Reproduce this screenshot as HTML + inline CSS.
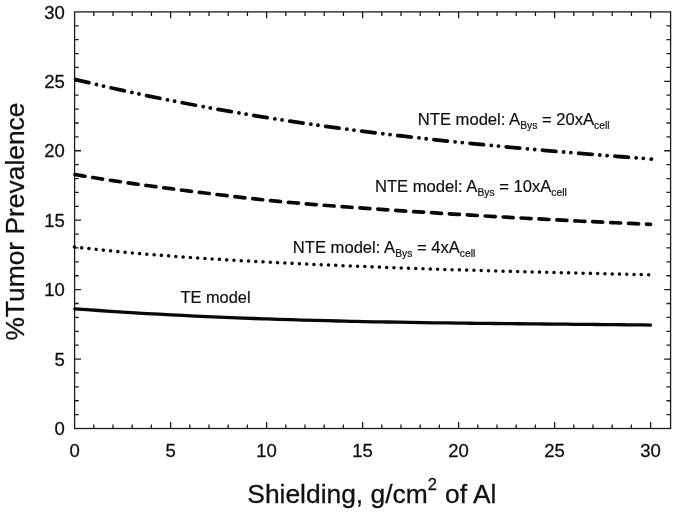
<!DOCTYPE html>
<html><head><meta charset="utf-8"><title>Tumor Prevalence vs Shielding</title>
<style>html,body{margin:0;padding:0;background:#fff}svg{display:block}text{font-family:"Liberation Sans",Arial,sans-serif;fill:#111}</style>
</head><body>
<svg width="675" height="513" viewBox="0 0 675 513">
<rect width="675" height="513" fill="#fff"/>
<g stroke="#1c1c1c" stroke-width="1.3" fill="none" stroke-linecap="butt">
<rect x="74.60" y="11.90" width="596.00" height="416.60"/>
<path d="M93.80 428.50 v-4.10 M93.80 11.90 v4.10"/>
<path d="M113.00 428.50 v-4.10 M113.00 11.90 v4.10"/>
<path d="M132.20 428.50 v-4.10 M132.20 11.90 v4.10"/>
<path d="M151.40 428.50 v-4.10 M151.40 11.90 v4.10"/>
<path d="M170.60 428.50 v-6.40 M170.60 11.90 v6.40"/>
<path d="M189.80 428.50 v-4.10 M189.80 11.90 v4.10"/>
<path d="M209.00 428.50 v-4.10 M209.00 11.90 v4.10"/>
<path d="M228.20 428.50 v-4.10 M228.20 11.90 v4.10"/>
<path d="M247.40 428.50 v-4.10 M247.40 11.90 v4.10"/>
<path d="M266.60 428.50 v-6.40 M266.60 11.90 v6.40"/>
<path d="M285.80 428.50 v-4.10 M285.80 11.90 v4.10"/>
<path d="M305.00 428.50 v-4.10 M305.00 11.90 v4.10"/>
<path d="M324.20 428.50 v-4.10 M324.20 11.90 v4.10"/>
<path d="M343.40 428.50 v-4.10 M343.40 11.90 v4.10"/>
<path d="M362.60 428.50 v-6.40 M362.60 11.90 v6.40"/>
<path d="M381.80 428.50 v-4.10 M381.80 11.90 v4.10"/>
<path d="M401.00 428.50 v-4.10 M401.00 11.90 v4.10"/>
<path d="M420.20 428.50 v-4.10 M420.20 11.90 v4.10"/>
<path d="M439.40 428.50 v-4.10 M439.40 11.90 v4.10"/>
<path d="M458.60 428.50 v-6.40 M458.60 11.90 v6.40"/>
<path d="M477.80 428.50 v-4.10 M477.80 11.90 v4.10"/>
<path d="M497.00 428.50 v-4.10 M497.00 11.90 v4.10"/>
<path d="M516.20 428.50 v-4.10 M516.20 11.90 v4.10"/>
<path d="M535.40 428.50 v-4.10 M535.40 11.90 v4.10"/>
<path d="M554.60 428.50 v-6.40 M554.60 11.90 v6.40"/>
<path d="M573.80 428.50 v-4.10 M573.80 11.90 v4.10"/>
<path d="M593.00 428.50 v-4.10 M593.00 11.90 v4.10"/>
<path d="M612.20 428.50 v-4.10 M612.20 11.90 v4.10"/>
<path d="M631.40 428.50 v-4.10 M631.40 11.90 v4.10"/>
<path d="M650.60 428.50 v-6.40 M650.60 11.90 v6.40"/>
<path d="M74.60 414.61 h4.10 M670.60 414.61 h-4.10"/>
<path d="M74.60 400.73 h4.10 M670.60 400.73 h-4.10"/>
<path d="M74.60 386.84 h4.10 M670.60 386.84 h-4.10"/>
<path d="M74.60 372.95 h4.10 M670.60 372.95 h-4.10"/>
<path d="M74.60 359.07 h6.40 M670.60 359.07 h-6.40"/>
<path d="M74.60 345.18 h4.10 M670.60 345.18 h-4.10"/>
<path d="M74.60 331.29 h4.10 M670.60 331.29 h-4.10"/>
<path d="M74.60 317.41 h4.10 M670.60 317.41 h-4.10"/>
<path d="M74.60 303.52 h4.10 M670.60 303.52 h-4.10"/>
<path d="M74.60 289.63 h6.40 M670.60 289.63 h-6.40"/>
<path d="M74.60 275.75 h4.10 M670.60 275.75 h-4.10"/>
<path d="M74.60 261.86 h4.10 M670.60 261.86 h-4.10"/>
<path d="M74.60 247.97 h4.10 M670.60 247.97 h-4.10"/>
<path d="M74.60 234.09 h4.10 M670.60 234.09 h-4.10"/>
<path d="M74.60 220.20 h6.40 M670.60 220.20 h-6.40"/>
<path d="M74.60 206.31 h4.10 M670.60 206.31 h-4.10"/>
<path d="M74.60 192.43 h4.10 M670.60 192.43 h-4.10"/>
<path d="M74.60 178.54 h4.10 M670.60 178.54 h-4.10"/>
<path d="M74.60 164.65 h4.10 M670.60 164.65 h-4.10"/>
<path d="M74.60 150.77 h6.40 M670.60 150.77 h-6.40"/>
<path d="M74.60 136.88 h4.10 M670.60 136.88 h-4.10"/>
<path d="M74.60 122.99 h4.10 M670.60 122.99 h-4.10"/>
<path d="M74.60 109.11 h4.10 M670.60 109.11 h-4.10"/>
<path d="M74.60 95.22 h4.10 M670.60 95.22 h-4.10"/>
<path d="M74.60 81.33 h6.40 M670.60 81.33 h-6.40"/>
<path d="M74.60 67.45 h4.10 M670.60 67.45 h-4.10"/>
<path d="M74.60 53.56 h4.10 M670.60 53.56 h-4.10"/>
<path d="M74.60 39.67 h4.10 M670.60 39.67 h-4.10"/>
<path d="M74.60 25.79 h4.10 M670.60 25.79 h-4.10"/>
</g>
<g font-size="18.5" stroke="#111" stroke-width="0.3">
<text x="74.60" y="456.50" text-anchor="middle">0</text>
<text x="170.60" y="456.50" text-anchor="middle">5</text>
<text x="266.60" y="456.50" text-anchor="middle">10</text>
<text x="362.60" y="456.50" text-anchor="middle">15</text>
<text x="458.60" y="456.50" text-anchor="middle">20</text>
<text x="554.60" y="456.50" text-anchor="middle">25</text>
<text x="650.60" y="456.50" text-anchor="middle">30</text>
<text x="64.80" y="435.15" text-anchor="end">0</text>
<text x="64.80" y="365.72" text-anchor="end">5</text>
<text x="64.80" y="296.28" text-anchor="end">10</text>
<text x="64.80" y="226.85" text-anchor="end">15</text>
<text x="64.80" y="157.42" text-anchor="end">20</text>
<text x="64.80" y="87.98" text-anchor="end">25</text>
<text x="64.80" y="18.55" text-anchor="end">30</text>
</g>
<text x="247.3" y="503.3" font-size="26.4" stroke="#111" stroke-width="0.3">Shielding, g/cm<tspan font-size="16.5" dy="-13.2">2</tspan><tspan dy="13.2" dx="0.8"> of Al</tspan></text>
<text transform="translate(23.7 340.6) rotate(-90)" font-size="26.4" stroke="#111" stroke-width="0.3">%Tumor Prevalence</text>
<g fill="none" stroke="#080808" stroke-linecap="round" stroke-linejoin="round">
<path d="M75.70 79.53 C77.70 80.02 83.70 81.47 87.70 82.42 C91.70 83.37 95.70 84.31 99.70 85.24 C103.70 86.17 107.70 87.08 111.70 87.98 C115.70 88.89 119.70 89.78 123.70 90.65 C127.70 91.53 131.70 92.40 135.70 93.26 C139.70 94.11 143.70 94.96 147.70 95.79 C151.70 96.63 155.70 97.45 159.70 98.26 C163.70 99.07 167.70 99.87 171.70 100.66 C175.70 101.45 179.70 102.23 183.70 103.00 C187.70 103.77 191.70 104.53 195.70 105.28 C199.70 106.03 203.70 106.76 207.70 107.49 C211.70 108.22 215.70 108.94 219.70 109.65 C223.70 110.36 227.70 111.05 231.70 111.74 C235.70 112.43 239.70 113.11 243.70 113.78 C247.70 114.45 251.70 115.12 255.70 115.77 C259.70 116.42 263.70 117.06 267.70 117.70 C271.70 118.33 275.70 118.96 279.70 119.57 C283.70 120.19 287.70 120.80 291.70 121.40 C295.70 122.00 299.70 122.59 303.70 123.17 C307.70 123.76 311.70 124.33 315.70 124.90 C319.70 125.47 323.70 126.03 327.70 126.58 C331.70 127.13 335.70 127.67 339.70 128.21 C343.70 128.75 347.70 129.28 351.70 129.80 C355.70 130.32 359.70 130.84 363.70 131.35 C367.70 131.85 371.70 132.35 375.70 132.85 C379.70 133.34 383.70 133.83 387.70 134.31 C391.70 134.79 395.70 135.27 399.70 135.74 C403.70 136.20 407.70 136.67 411.70 137.12 C415.70 137.58 419.70 138.03 423.70 138.47 C427.70 138.92 431.70 139.36 435.70 139.79 C439.70 140.22 443.70 140.65 447.70 141.07 C451.70 141.49 455.70 141.91 459.70 142.32 C463.70 142.73 467.70 143.14 471.70 143.54 C475.70 143.94 479.70 144.34 483.70 144.73 C487.70 145.12 491.70 145.51 495.70 145.89 C499.70 146.27 503.70 146.65 507.70 147.03 C511.70 147.40 515.70 147.77 519.70 148.14 C523.70 148.50 527.70 148.86 531.70 149.22 C535.70 149.58 539.70 149.94 543.70 150.29 C547.70 150.64 551.70 150.99 555.70 151.33 C559.70 151.67 563.70 152.02 567.70 152.35 C571.70 152.69 575.70 153.03 579.70 153.36 C583.70 153.69 587.70 154.02 591.70 154.35 C595.70 154.67 599.70 155.00 603.70 155.32 C607.70 155.64 611.70 155.96 615.70 156.28 C619.70 156.60 623.70 156.91 627.70 157.23 C631.70 157.54 635.75 157.86 639.70 158.16 C643.65 158.47 649.45 158.91 651.40 159.06" stroke-width="3.8" stroke-dasharray="13.500 7.775 0.01 7.230 0.01 7.824"/>
<path d="M75.00 174.52 C77.00 174.86 83.00 175.89 87.00 176.55 C91.00 177.22 95.00 177.86 99.00 178.49 C103.00 179.13 107.00 179.74 111.00 180.35 C115.00 180.95 119.00 181.55 123.00 182.13 C127.00 182.71 131.00 183.28 135.00 183.85 C139.00 184.41 143.00 184.96 147.00 185.51 C151.00 186.06 155.00 186.59 159.00 187.13 C163.00 187.66 167.00 188.18 171.00 188.70 C175.00 189.22 179.00 189.74 183.00 190.25 C187.00 190.76 191.00 191.26 195.00 191.76 C199.00 192.27 203.00 192.76 207.00 193.26 C211.00 193.75 215.00 194.25 219.00 194.73 C223.00 195.22 227.00 195.70 231.00 196.18 C235.00 196.65 239.00 197.12 243.00 197.58 C247.00 198.04 251.00 198.49 255.00 198.92 C259.00 199.36 263.00 199.79 267.00 200.20 C271.00 200.62 275.00 201.02 279.00 201.41 C283.00 201.79 287.00 202.16 291.00 202.52 C295.00 202.88 299.00 203.23 303.00 203.57 C307.00 203.91 311.00 204.23 315.00 204.55 C319.00 204.87 323.00 205.18 327.00 205.49 C331.00 205.79 335.00 206.09 339.00 206.38 C343.00 206.68 347.00 206.97 351.00 207.26 C355.00 207.54 359.00 207.83 363.00 208.11 C367.00 208.39 371.00 208.67 375.00 208.95 C379.00 209.23 383.00 209.51 387.00 209.78 C391.00 210.05 395.00 210.32 399.00 210.59 C403.00 210.86 407.00 211.12 411.00 211.38 C415.00 211.65 419.00 211.91 423.00 212.16 C427.00 212.42 431.00 212.68 435.00 212.93 C439.00 213.18 443.00 213.43 447.00 213.68 C451.00 213.93 455.00 214.17 459.00 214.42 C463.00 214.66 467.00 214.90 471.00 215.14 C475.00 215.38 479.00 215.61 483.00 215.85 C487.00 216.08 491.00 216.31 495.00 216.54 C499.00 216.77 503.00 217.00 507.00 217.22 C511.00 217.45 515.00 217.67 519.00 217.89 C523.00 218.11 527.00 218.32 531.00 218.54 C535.00 218.76 539.00 218.97 543.00 219.18 C547.00 219.39 551.00 219.60 555.00 219.80 C559.00 220.01 563.00 220.22 567.00 220.42 C571.00 220.62 575.00 220.82 579.00 221.02 C583.00 221.21 587.00 221.41 591.00 221.60 C595.00 221.80 599.00 221.99 603.00 222.18 C607.00 222.37 611.00 222.55 615.00 222.74 C619.00 222.92 623.00 223.11 627.00 223.29 C631.00 223.47 635.08 223.65 639.00 223.82 C642.92 224.00 648.58 224.24 650.50 224.33" stroke-width="3.7" stroke-dasharray="10.000 7.938"/>
<path d="M74.40 246.98 C76.40 247.20 82.40 247.90 86.40 248.34 C90.40 248.78 94.40 249.21 98.40 249.62 C102.40 250.04 106.40 250.44 110.40 250.84 C114.40 251.23 118.40 251.61 122.40 251.99 C126.40 252.36 130.40 252.72 134.40 253.07 C138.40 253.42 142.40 253.77 146.40 254.10 C150.40 254.43 154.40 254.76 158.40 255.08 C162.40 255.39 166.40 255.70 170.40 256.00 C174.40 256.30 178.40 256.59 182.40 256.88 C186.40 257.17 190.40 257.44 194.40 257.72 C198.40 257.99 202.40 258.26 206.40 258.52 C210.40 258.78 214.40 259.03 218.40 259.28 C222.40 259.53 226.40 259.78 230.40 260.02 C234.40 260.26 238.40 260.49 242.40 260.72 C246.40 260.95 250.40 261.18 254.40 261.40 C258.40 261.62 262.40 261.83 266.40 262.04 C270.40 262.26 274.40 262.46 278.40 262.67 C282.40 262.87 286.40 263.07 290.40 263.27 C294.40 263.46 298.40 263.65 302.40 263.84 C306.40 264.03 310.40 264.22 314.40 264.40 C318.40 264.58 322.40 264.76 326.40 264.93 C330.40 265.11 334.40 265.28 338.40 265.45 C342.40 265.62 346.40 265.79 350.40 265.96 C354.40 266.12 358.40 266.28 362.40 266.44 C366.40 266.60 370.40 266.76 374.40 266.92 C378.40 267.07 382.40 267.23 386.40 267.38 C390.40 267.53 394.40 267.68 398.40 267.82 C402.40 267.97 406.40 268.11 410.40 268.25 C414.40 268.39 418.40 268.53 422.40 268.67 C426.40 268.81 430.40 268.94 434.40 269.07 C438.40 269.21 442.40 269.34 446.40 269.47 C450.40 269.59 454.40 269.72 458.40 269.84 C462.40 269.97 466.40 270.09 470.40 270.21 C474.40 270.33 478.40 270.45 482.40 270.56 C486.40 270.68 490.40 270.79 494.40 270.91 C498.40 271.02 502.40 271.13 506.40 271.24 C510.40 271.35 514.40 271.45 518.40 271.56 C522.40 271.67 526.40 271.77 530.40 271.87 C534.40 271.98 538.40 272.08 542.40 272.18 C546.40 272.28 550.40 272.38 554.40 272.48 C558.40 272.58 562.40 272.68 566.40 272.78 C570.40 272.88 574.40 272.98 578.40 273.08 C582.40 273.17 586.40 273.27 590.40 273.37 C594.40 273.47 598.40 273.57 602.40 273.66 C606.40 273.76 610.40 273.86 614.40 273.96 C618.40 274.05 622.40 274.15 626.40 274.25 C630.40 274.35 634.40 274.45 638.40 274.55 C642.40 274.65 648.40 274.80 650.40 274.85" stroke-width="3.5" stroke-dasharray="0.01 7.269"/>
<path d="M74.80 308.79 C76.80 308.94 82.80 309.39 86.80 309.67 C90.80 309.96 94.80 310.24 98.80 310.52 C102.80 310.79 106.80 311.06 110.80 311.33 C114.80 311.59 118.80 311.85 122.80 312.10 C126.80 312.35 130.80 312.60 134.80 312.84 C138.80 313.08 142.80 313.31 146.80 313.54 C150.80 313.77 154.80 313.99 158.80 314.21 C162.80 314.43 166.80 314.64 170.80 314.85 C174.80 315.06 178.80 315.26 182.80 315.46 C186.80 315.66 190.80 315.85 194.80 316.04 C198.80 316.23 202.80 316.41 206.80 316.59 C210.80 316.77 214.80 316.94 218.80 317.11 C222.80 317.28 226.80 317.45 230.80 317.61 C234.80 317.77 238.80 317.93 242.80 318.08 C246.80 318.23 250.80 318.38 254.80 318.52 C258.80 318.67 262.80 318.80 266.80 318.94 C270.80 319.08 274.80 319.21 278.80 319.34 C282.80 319.47 286.80 319.59 290.80 319.71 C294.80 319.83 298.80 319.95 302.80 320.06 C306.80 320.18 310.80 320.29 314.80 320.39 C318.80 320.50 322.80 320.61 326.80 320.71 C330.80 320.81 334.80 320.91 338.80 321.00 C342.80 321.09 346.80 321.19 350.80 321.28 C354.80 321.36 358.80 321.45 362.80 321.53 C366.80 321.62 370.80 321.70 374.80 321.78 C378.80 321.85 382.80 321.93 386.80 322.00 C390.80 322.08 394.80 322.15 398.80 322.22 C402.80 322.28 406.80 322.35 410.80 322.42 C414.80 322.48 418.80 322.54 422.80 322.60 C426.80 322.66 430.80 322.72 434.80 322.78 C438.80 322.83 442.80 322.89 446.80 322.94 C450.80 323.00 454.80 323.05 458.80 323.10 C462.80 323.15 466.80 323.20 470.80 323.25 C474.80 323.29 478.80 323.34 482.80 323.38 C486.80 323.43 490.80 323.47 494.80 323.52 C498.80 323.56 502.80 323.60 506.80 323.64 C510.80 323.68 514.80 323.73 518.80 323.76 C522.80 323.80 526.80 323.84 530.80 323.88 C534.80 323.92 538.80 323.96 542.80 324.00 C546.80 324.03 550.80 324.07 554.80 324.11 C558.80 324.15 562.80 324.18 566.80 324.22 C570.80 324.26 574.80 324.29 578.80 324.33 C582.80 324.37 586.80 324.40 590.80 324.44 C594.80 324.48 598.80 324.51 602.80 324.55 C606.80 324.59 610.80 324.63 614.80 324.67 C618.80 324.70 622.80 324.74 626.80 324.78 C630.80 324.82 634.83 324.86 638.80 324.90 C642.77 324.95 648.63 325.01 650.60 325.03" stroke-width="3.3"/>
</g>
<text x="417.8" y="124.9" font-size="16.6" stroke="#111" stroke-width="0.2">NTE model: A<tspan font-size="10.3" dy="4.2">Bys</tspan><tspan dy="-4.2"> = 20xA</tspan><tspan font-size="10.3" dy="4.2">cell</tspan></text>
<text x="375.0" y="191.7" font-size="16.6" stroke="#111" stroke-width="0.2">NTE model: A<tspan font-size="10.3" dy="4.2">Bys</tspan><tspan dy="-4.2"> = 10xA</tspan><tspan font-size="10.3" dy="4.2">cell</tspan></text>
<text x="292.8" y="252.8" font-size="16.6" stroke="#111" stroke-width="0.2">NTE model: A<tspan font-size="10.3" dy="4.2">Bys</tspan><tspan dy="-4.2"> = 4xA</tspan><tspan font-size="10.3" dy="4.2">cell</tspan></text>
<text x="180.4" y="302.9" font-size="16.4" stroke="#111" stroke-width="0.2">TE model</text>
</svg>
</body></html>
